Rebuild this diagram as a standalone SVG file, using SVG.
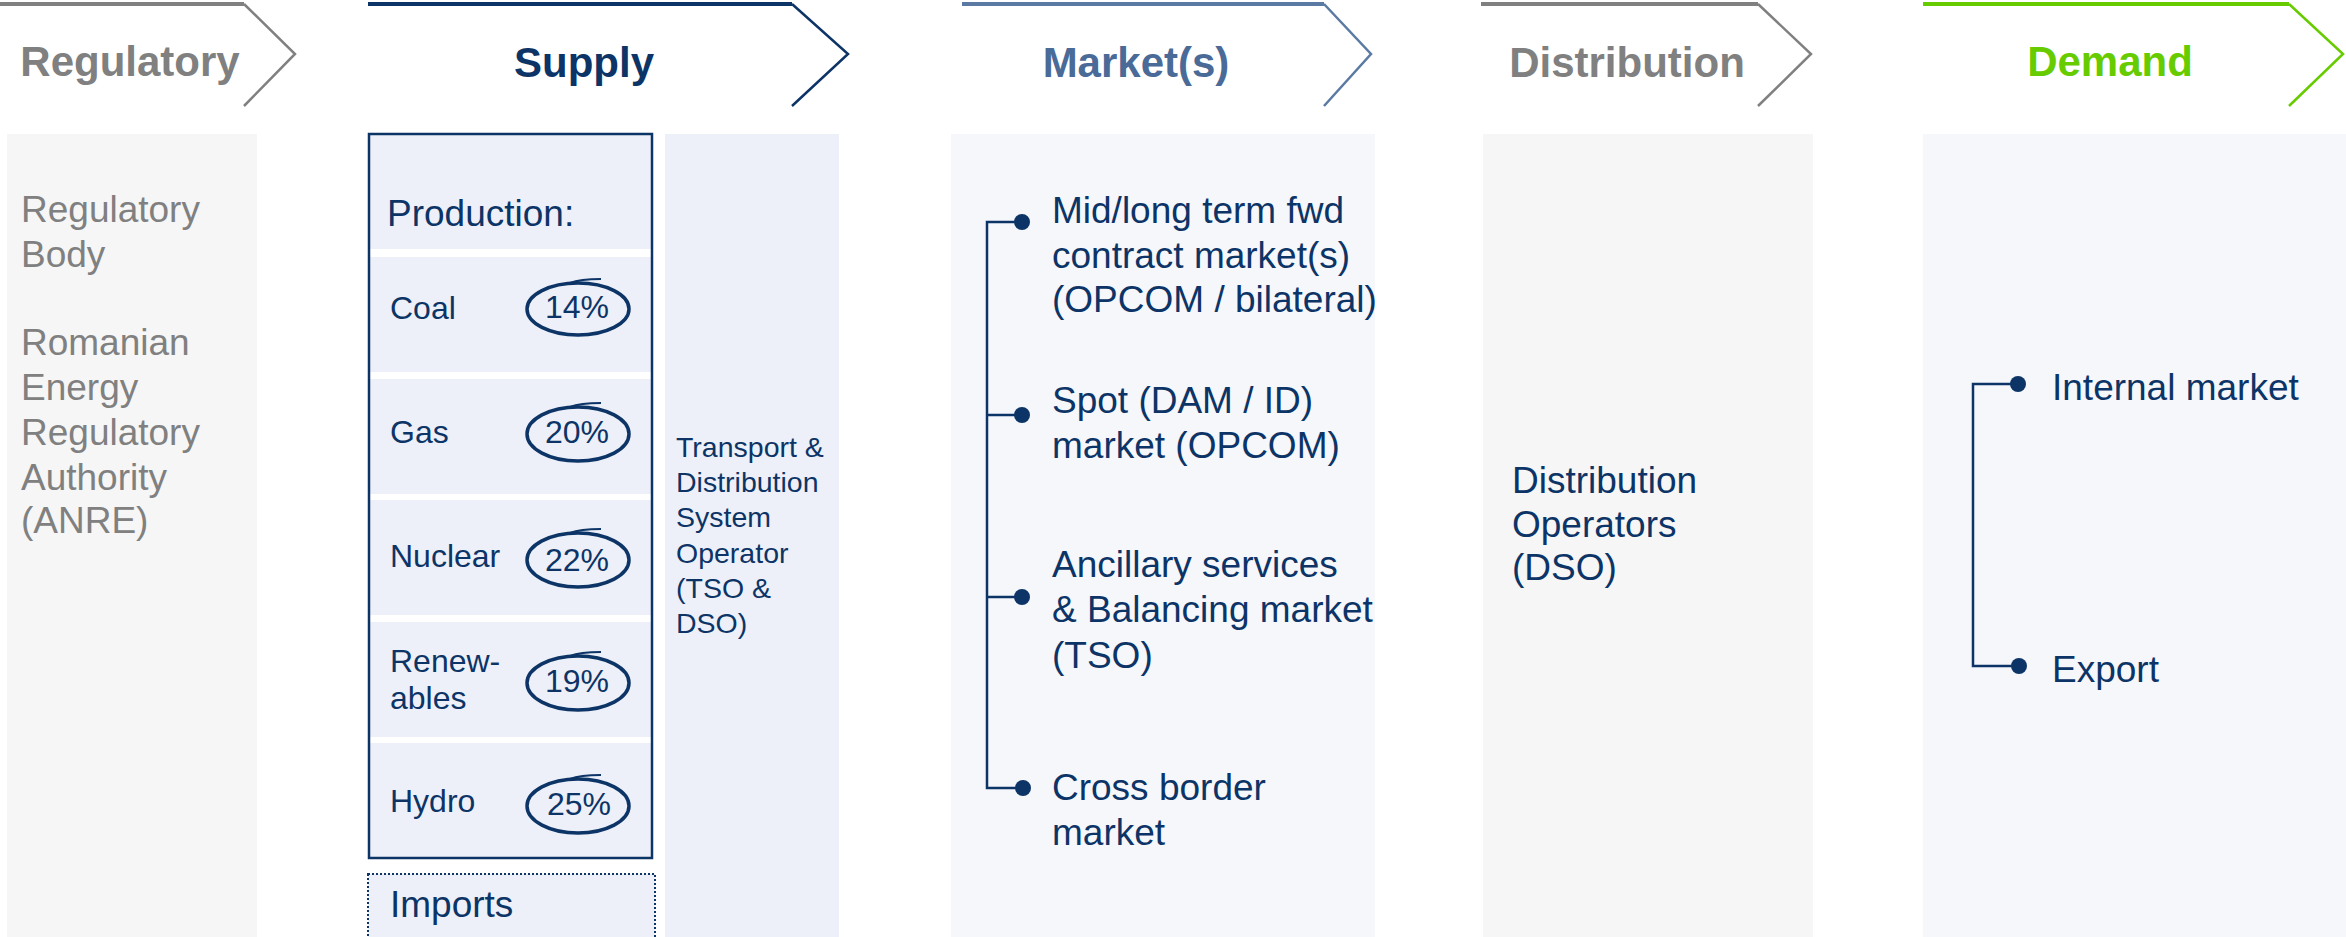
<svg xmlns="http://www.w3.org/2000/svg" width="2346" height="937" viewBox="0 0 2346 937">
<style>
  .hdr{font-family:"Liberation Sans",Arial,sans-serif;font-size:42px;font-weight:bold;text-anchor:middle}
  .t37{font-family:"Liberation Sans",Arial,sans-serif;font-size:37px;fill:#0d3466}
  .t32{font-family:"Liberation Sans",Arial,sans-serif;font-size:32px;fill:#0d3466}
  .t29{font-family:"Liberation Sans",Arial,sans-serif;font-size:28.5px;fill:#0d3466}
  .gray{fill:#808080}
  .chev{fill:none;stroke-width:2.5;stroke-linejoin:miter}
  .topl{stroke-width:4}
  .row{fill:#edf0f8}
  .ell{fill:none;stroke:#0d3466;stroke-width:3.5}
  .flick{fill:none;stroke:#0d3466;stroke-width:2.2}
  .pct{font-family:"Liberation Sans",Arial,sans-serif;font-size:32px;fill:#0d3466;text-anchor:middle}
  .conn{fill:none;stroke:#0d3466;stroke-width:2.5}
  .dot{fill:#0d3466}
</style>
<rect width="2346" height="937" fill="#ffffff"/>

<!-- Headers -->
<g id="hdr-regulatory">
  <line x1="0" y1="4" x2="244" y2="4" stroke="#808080" class="topl"/>
  <polyline class="chev" stroke="#808080" points="244,4 295,54 244,106"/>
  <text class="hdr" x="130" y="76" fill="#808080">Regulatory</text>
</g>
<g id="hdr-supply">
  <line x1="368" y1="4" x2="792" y2="4" stroke="#0d3466" class="topl"/>
  <polyline class="chev" stroke="#0d3466" points="792,4 848,54 792,106"/>
  <text class="hdr" x="584" y="77" fill="#0d3466">Supply</text>
</g>
<g id="hdr-markets">
  <line x1="962" y1="4" x2="1324" y2="4" stroke="#5a7aa3" class="topl"/>
  <polyline class="chev" stroke="#5a7aa3" points="1324,4 1371,54 1324,106"/>
  <text class="hdr" x="1136" y="77" fill="#4a6a97">Market(s)</text>
</g>
<g id="hdr-distribution">
  <line x1="1481" y1="4" x2="1758" y2="4" stroke="#808080" class="topl"/>
  <polyline class="chev" stroke="#808080" points="1758,4 1811,54 1758,106"/>
  <text class="hdr" x="1627" y="77" fill="#808080">Distribution</text>
</g>
<g id="hdr-demand">
  <line x1="1923" y1="4" x2="2289" y2="4" stroke="#66cc00" class="topl"/>
  <polyline class="chev" stroke="#66cc00" points="2289,4 2343,54 2289,106"/>
  <text class="hdr" x="2110" y="76" fill="#66cc00">Demand</text>
</g>

<!-- Regulatory panel -->
<g id="regulatory-body">
  <rect x="7" y="134" width="250" height="803" fill="#f6f6f6"/>
  <text class="t37 gray" x="21" y="222">Regulatory</text>
  <text class="t37 gray" x="21" y="267">Body</text>
  <text class="t37 gray" x="21" y="355">Romanian</text>
  <text class="t37 gray" x="21" y="400">Energy</text>
  <text class="t37 gray" x="21" y="445">Regulatory</text>
  <text class="t37 gray" x="21" y="490">Authority</text>
  <text class="t37 gray" x="21" y="533">(ANRE)</text>
</g>

<!-- Production box -->
<g id="production">
  <rect class="row" x="369" y="135" width="283" height="114"/>
  <rect class="row" x="369" y="257" width="283" height="115"/>
  <rect class="row" x="369" y="379" width="283" height="115"/>
  <rect class="row" x="369" y="500" width="283" height="115"/>
  <rect class="row" x="369" y="622" width="283" height="115"/>
  <rect class="row" x="369" y="743" width="283" height="115"/>
  <rect x="369" y="134" width="283" height="724" fill="none" stroke="#0d3466" stroke-width="2.5"/>
  <text class="t37" x="387" y="226">Production:</text>
</g>
<g id="coal">
  <text class="t32" x="390" y="319">Coal</text>
  <ellipse class="ell" cx="578" cy="309" rx="51" ry="26"/>
  <path class="flick" d="M570 283 Q580 279 601 279"/>
  <text class="pct" x="577" y="318">14%</text>
</g>
<g id="gas">
  <text class="t32" x="390" y="443">Gas</text>
  <ellipse class="ell" cx="578" cy="434" rx="51" ry="27"/>
  <path class="flick" d="M570 407 Q580 403 601 403"/>
  <text class="pct" x="577" y="443">20%</text>
</g>
<g id="nuclear">
  <text class="t32" x="390" y="567">Nuclear</text>
  <ellipse class="ell" cx="578" cy="560" rx="51" ry="27"/>
  <path class="flick" d="M570 533 Q580 529 601 529"/>
  <text class="pct" x="577" y="571">22%</text>
</g>
<g id="renewables">
  <text class="t32" x="390" y="672">Renew-</text>
  <text class="t32" x="390" y="709">ables</text>
  <ellipse class="ell" cx="578" cy="683" rx="51" ry="27"/>
  <path class="flick" d="M570 656 Q580 652 601 652"/>
  <text class="pct" x="577" y="692">19%</text>
</g>
<g id="hydro">
  <text class="t32" x="390" y="812">Hydro</text>
  <ellipse class="ell" cx="578" cy="806" rx="51" ry="27"/>
  <path class="flick" d="M570 779 Q580 775 601 775"/>
  <text class="pct" x="579" y="815">25%</text>
</g>
<g id="imports">
  <rect x="368" y="874" width="287" height="70" fill="#edf0f8" stroke="#0d3466" stroke-width="2" stroke-dasharray="2,2"/>
  <text class="t37" x="390" y="917">Imports</text>
</g>

<!-- Transport panel -->
<g id="transport">
  <rect x="665" y="134" width="174" height="803" fill="#edf0f8"/>
  <text class="t29" x="676" y="457">Transport &amp;</text>
  <text class="t29" x="676" y="492">Distribution</text>
  <text class="t29" x="676" y="527">System</text>
  <text class="t29" x="676" y="563">Operator</text>
  <text class="t29" x="676" y="598">(TSO &amp;</text>
  <text class="t29" x="676" y="633">DSO)</text>
</g>

<!-- Markets panel -->
<g id="markets-panel">
  <rect x="951" y="134" width="424" height="803" fill="#f5f7fb"/>
</g>
<g id="mkt-fwd">
  <circle class="dot" cx="1022" cy="222" r="8"/>
  <text class="t37" x="1052" y="223">Mid/long term fwd</text>
  <text class="t37" x="1052" y="268">contract market(s)</text>
  <text class="t37" x="1052" y="312">(OPCOM / bilateral)</text>
</g>
<g id="mkt-spot">
  <circle class="dot" cx="1022" cy="415" r="8"/>
  <text class="t37" x="1052" y="413">Spot (DAM / ID)</text>
  <text class="t37" x="1052" y="458">market (OPCOM)</text>
</g>
<g id="mkt-ancillary">
  <circle class="dot" cx="1022" cy="597" r="8"/>
  <text class="t37" x="1052" y="577">Ancillary services</text>
  <text class="t37" x="1052" y="622">&amp; Balancing market</text>
  <text class="t37" x="1052" y="668">(TSO)</text>
</g>
<g id="mkt-cross">
  <circle class="dot" cx="1023" cy="788" r="8"/>
  <text class="t37" x="1052" y="800">Cross border</text>
  <text class="t37" x="1052" y="845">market</text>
</g>

<!-- Distribution panel -->
<g id="distribution">
  <rect x="1483" y="134" width="330" height="803" fill="#f6f6f6"/>
  <text class="t37" x="1512" y="493">Distribution</text>
  <text class="t37" x="1512" y="537">Operators</text>
  <text class="t37" x="1512" y="580">(DSO)</text>
</g>

<!-- Demand panel -->
<g id="demand-panel">
  <rect x="1923" y="134" width="423" height="803" fill="#f5f7fb"/>
</g>
<g id="dem-internal">
  <circle class="dot" cx="2018" cy="384" r="8"/>
  <text class="t37" x="2052" y="400">Internal market</text>
</g>
<g id="dem-export">
  <circle class="dot" cx="2019" cy="666" r="8"/>
  <text class="t37" x="2052" y="682">Export</text>
</g>

<!-- Connectors -->
<g id="connectors">
  <path class="conn" d="M1022 222 H987 V788 H1023"/>
  <path class="conn" d="M987 415 H1022"/>
  <path class="conn" d="M987 597 H1022"/>
  <path class="conn" d="M2018 384 H1973 V666 H2019"/>
</g>
</svg>
